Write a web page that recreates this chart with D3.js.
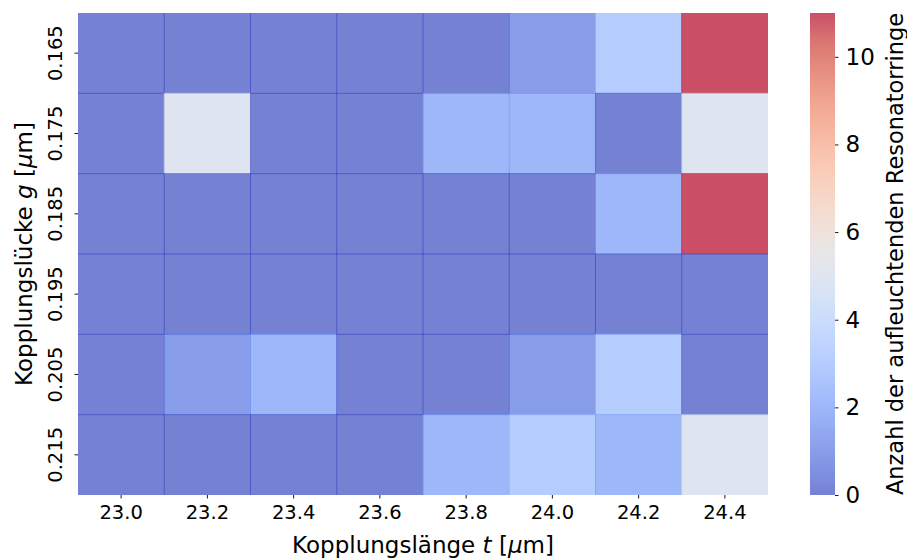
<!DOCTYPE html>
<html>
<head>
<meta charset="utf-8">
<script src="https://cdn.jsdelivr.net/npm/d3@7"></script>
<style>
  body { margin: 0; background: #fff; }
  text { font-family: "DejaVu Sans", sans-serif; fill: #000; }
</style>
</head>
<body>
<svg id="chart" width="907" height="560"></svg>
<script>
// coupling length t (columns) and coupling gap g (rows)
var lengths = ['23.0', '23.2', '23.4', '23.6', '23.8', '24.0', '24.2', '24.4'];
var gaps = ['0.165', '0.175', '0.185', '0.195', '0.205', '0.215'];

// number of lit resonator rings, one array per gap row
var row165 = [0, 0, 0, 0, 0, 1, 3, 11];
var row175 = [0, 5, 0, 0, 2, 2, 0, 5];
var row185 = [0, 0, 0, 0, 0, 0, 2, 11];
var row195 = [0, 0, 0, 0, 0, 0, 0, 0];
var row205 = [0, 1, 2, 0, 0, 1, 3, 0];
var row215 = [0, 0, 0, 0, 2, 3, 2, 5];
var rows = [row165, row175, row185, row195, row205, row215];

var colorbarTicks = [0, 2, 4, 6, 8, 10];
var vmin = 0, vmax = 11;

// coolwarm (Moreland) control colours
var coolwarm = ['#3b4cc0', '#445acc', '#4d68d7', '#5775e1', '#6282ea', '#6c8ef1',
  '#779af7', '#82a5fb', '#8db0fe', '#98b9ff', '#a3c2ff', '#aec9fd', '#b8d0f9',
  '#c2d5f4', '#ccd9ee', '#d5dbe6', '#dddddd', '#e5d8d1', '#ecd3c5', '#f1ccb9',
  '#f5c4ad', '#f7bba0', '#f7b194', '#f7a687', '#f49a7b', '#f18d6f', '#ec7f63',
  '#e57058', '#de604d', '#d55042', '#cb3e38', '#c0282f', '#b40426'];
var cmap = d3.scaleSequential(d3.interpolateRgbBasis(coolwarm)).domain([vmin, vmax]);

var cells = [];
rows.forEach(function(r, j) {
    r.forEach(function(v, i) {
        cells.push({t: lengths[i], g: gaps[j], value: v});
    });
});

var svg = d3.select('#chart');
var margin = {left: 78, top: 13, right: 768, bottom: 495};

var x = d3.scaleBand().domain(lengths).range([margin.left, margin.right]);
var y = d3.scaleBand().domain(gaps).range([margin.top, margin.bottom]);

svg.append('clipPath').attr('id', 'clip')
    .append('rect')
    .attr('x', margin.left).attr('y', margin.top)
    .attr('width', margin.right - margin.left)
    .attr('height', margin.bottom - margin.top);

// cells drawn semi transparent and slightly overlapping, so the seams darken
svg.append('g').attr('clip-path', 'url(#clip)')
    .selectAll('rect')
    .data(cells)
    .enter()
    .append('rect')
    .attr('x', function(d) { return x(d.t) - 0.5; })
    .attr('y', function(d) { return y(d.g) - 0.5; })
    .attr('width', x.bandwidth() + 1)
    .attr('height', y.bandwidth() + 1)
    .style('fill', function(d) { return cmap(d.value); })
    .style('fill-opacity', 0.7);

var xAxis = svg.append('g')
    .attr('transform', 'translate(0,' + margin.bottom + ')')
    .call(d3.axisBottom(x).tickSize(3.5).tickPadding(6));
xAxis.select('.domain').remove();
xAxis.selectAll('text').style('font-size', '19.5px').attr('dy', '0.75em');

var yAxis = svg.append('g')
    .attr('transform', 'translate(' + margin.left + ',0)')
    .call(d3.axisLeft(y).tickSize(3.5).tickPadding(6));
yAxis.select('.domain').remove();
yAxis.selectAll('text')
    .style('font-size', '19.5px')
    .attr('text-anchor', 'middle')
    .attr('x', null).attr('dy', null)
    .attr('transform', 'translate(-16,0) rotate(-90)');

svg.selectAll('.tick line').style('stroke', '#000').style('stroke-width', 0.9);

svg.append('text')
    .attr('x', (margin.left + margin.right) / 2)
    .attr('y', 553)
    .attr('text-anchor', 'middle')
    .style('font-size', '23px')
    .html('Kopplungsl\u00e4nge <tspan font-style="italic">t</tspan> [<tspan font-style="italic">\u03bc</tspan>m]');

svg.append('text')
    .attr('transform', 'translate(32,' + (margin.top + margin.bottom) / 2 + ') rotate(-90)')
    .attr('text-anchor', 'middle')
    .style('font-size', '23px')
    .html('Kopplungsl\u00fccke <tspan font-style="italic">g</tspan> [<tspan font-style="italic">\u03bc</tspan>m]');

// colorbar
var cbX = 810, cbW = 25;
var cy = d3.scaleLinear().domain([vmin, vmax]).range([margin.bottom, margin.top]);

var grad = svg.append('defs').append('linearGradient')
    .attr('id', 'cbgrad')
    .attr('x1', 0).attr('y1', 1).attr('x2', 0).attr('y2', 0);
d3.range(0, 1.0001, 0.05).forEach(function(p) {
    grad.append('stop')
        .attr('offset', p)
        .attr('stop-color', cmap(vmin + p * (vmax - vmin)));
});

svg.append('rect')
    .attr('x', cbX).attr('y', margin.top)
    .attr('width', cbW).attr('height', margin.bottom - margin.top)
    .style('fill', 'url(#cbgrad)')
    .style('fill-opacity', 0.7);

var cbAxis = svg.append('g')
    .attr('transform', 'translate(' + (cbX + cbW) + ',0)')
    .call(d3.axisRight(cy).tickValues(colorbarTicks).tickSize(3.5).tickPadding(7));
cbAxis.select('.domain').remove();
cbAxis.selectAll('text').style('font-size', '23px');
cbAxis.selectAll('.tick line').style('stroke', '#000').style('stroke-width', 0.9);

svg.append('text')
    .attr('transform', 'translate(903,' + (margin.top + margin.bottom) / 2 + ') rotate(-90)')
    .attr('text-anchor', 'middle')
    .style('font-size', '22.5px')
    .text('Anzahl der aufleuchtenden Resonatorringe');
</script>
</body>
</html>
